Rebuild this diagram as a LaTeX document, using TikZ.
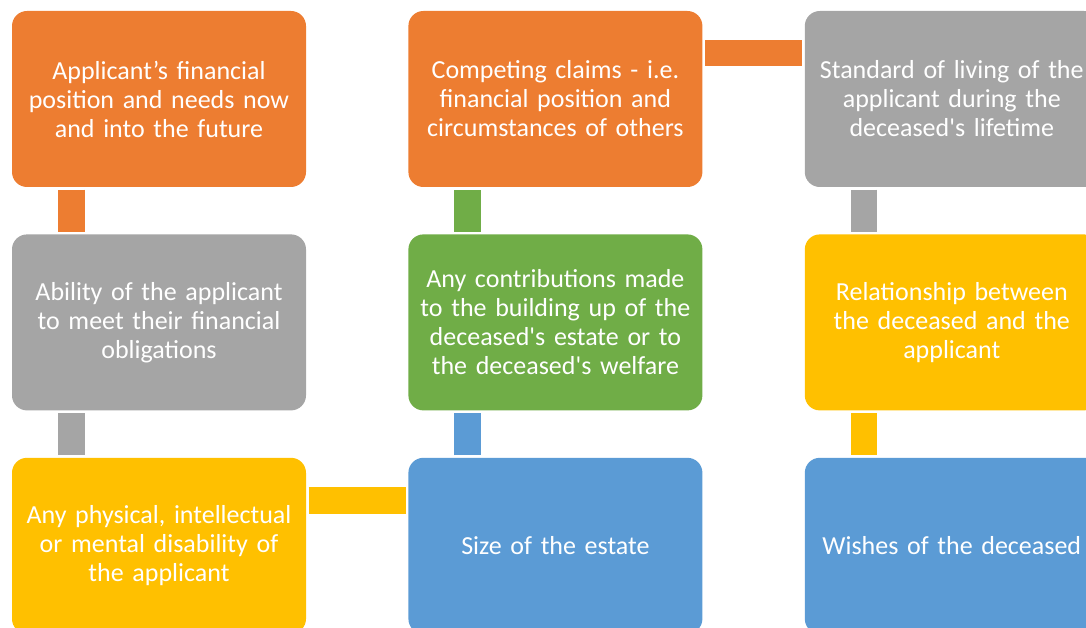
\documentclass[tikz,border=0pt]{standalone}
\usepackage{fontspec}
\setmainfont{Carlito}
\usetikzlibrary{positioning}
\definecolor{orng}{HTML}{ED7D31}
\definecolor{grey}{HTML}{A5A5A5}
\definecolor{gold}{HTML}{FFC000}
\definecolor{blu}{HTML}{5B9BD5}
\definecolor{grn}{HTML}{70AD47}
\tikzset{
  factor/.style={fill=#1, rounded corners=15pt, minimum width=294pt, minimum height=176pt,
    text width=290pt, align=center, text=white, inner sep=0pt,
    font=\fontsize{26}{29}\selectfont},
  link/.style={draw=#1, line width=26.5pt, shorten >=2.5pt, shorten <=2.5pt}
}

\begin{document}
\begin{tikzpicture}[node distance=47pt and 102pt]
  \useasboundingbox[clip] (0,0) rectangle (1086pt,-628pt);
  % first column
  \node[factor=orng] (need) at (159pt,-99pt) {Applicant’s financial\\position and needs now\\and into the future};
  \node[factor=grey, below=of need] (meet) {Ability of the applicant\\to meet their financial\\obligations};
  \node[factor=gold, below=of meet] (disab) {Any physical, intellectual\\or mental disability of\\the applicant};
  % second column
  \node[factor=blu, right=of disab] (size) {Size of the estate};
  \node[factor=grn, above=of size] (contrib) {Any contributions made\\to the building up of the\\deceased\textquotesingle s estate or to\\the deceased\textquotesingle s welfare};
  \node[factor=orng, above=of contrib] (claims) {Competing claims - i.e.\\financial position and\\circumstances of others};
  % third column
  \node[factor=grey, right=of claims] (living) {Standard of living of the\\applicant during the\\deceased\textquotesingle s lifetime};
  \node[factor=gold, below=of living] (rel) {Relationship between\\the deceased and the\\applicant};
  \node[factor=blu, below=of rel] (wish) {Wishes of the deceased};

  \draw[link=orng] ([xshift=59.5pt]need.south west) -- ([xshift=59.5pt]meet.north west);
  \draw[link=grey] ([xshift=59.5pt]meet.south west) -- ([xshift=59.5pt]disab.north west);
  \draw[link=gold] ([yshift=-43pt]disab.north east) -- ([yshift=-43pt]size.north west);
  \draw[link=blu] ([xshift=59.5pt]size.north west) -- ([xshift=59.5pt]contrib.south west);
  \draw[link=grn] ([xshift=59.5pt]contrib.north west) -- ([xshift=59.5pt]claims.south west);
  \draw[link=orng] ([yshift=-42pt]claims.north east) -- ([yshift=-42pt]living.north west);
  \draw[link=grey] ([xshift=59.5pt]living.south west) -- ([xshift=59.5pt]rel.north west);
  \draw[link=gold] ([xshift=59.5pt]rel.south west) -- ([xshift=59.5pt]wish.north west);
\end{tikzpicture}
\end{document}
